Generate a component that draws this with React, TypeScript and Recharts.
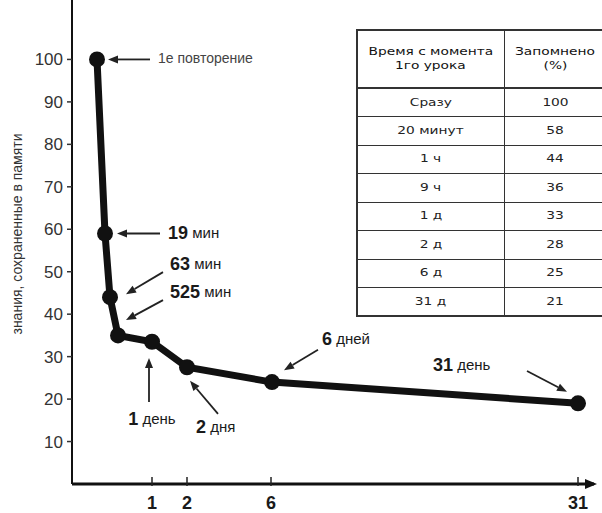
import React from 'react';
import { LineChart, Line, XAxis, YAxis, ReferenceLine, ReferenceDot } from 'recharts';

// points on the curve: position along the (schematic) time axis and % retained
const pointNames = ['старт', '19 мин', '63 мин', '525 мин', '1 день', '2 дня', '6 дней', '31 день'];
const axisPos = [25, 33, 38, 46, 80, 115, 200, 506];
const retained = [100, 59, 44, 35, 33.5, 27.5, 24, 19];

const xTickPos = [80, 115, 199, 506];
const xTickLabels = ['1', '2', '6', '31'];
const yTicks = [10, 20, 30, 40, 50, 60, 70, 80, 90, 100];

const tableHead = [
  ['Время с момента', '1го урока'],
  ['Запомнено', '(%)'],
];
const tableTimes = ['Сразу', '20 минут', '1 ч', '9 ч', '1 д', '2 д', '6 д', '31 д'];
const tablePercents = [100, 58, 44, 36, 33, 28, 25, 21];

const data = axisPos.map((pos, i) => ({ name: pointNames[i], pos, retained: retained[i] }));

// callouts: arrow from -> to (chart units), text offset from the arrow tail (px)
const notes = [
  { num: '', word: '1е повторение', from: [78, 100], to: [36, 100], dx: 8, dy: 0, anchor: 'start' },
  { num: '19', word: ' мин', from: [88, 59], to: [45, 59], dx: 8, dy: 0, anchor: 'start' },
  { num: '63', word: ' мин', from: [91, 49.9], to: [54, 44.7], dx: 7, dy: -7, anchor: 'start' },
  { num: '525', word: ' мин', from: [91, 43.3], to: [54, 38.6], dx: 7, dy: -7, anchor: 'start' },
  { num: '1', word: ' день', from: [77, 19.3], to: [77, 29.7], dx: 3, dy: 18, anchor: 'middle' },
  { num: '2', word: ' дня', from: [146, 16.5], to: [118, 24.3], dx: -22, dy: 14, anchor: 'start' },
  { num: '6', word: ' дней', from: [246, 31.6], to: [212, 26.8], dx: 4, dy: -10, anchor: 'start' },
  { num: '31', word: ' день', from: [455, 26.6], to: [495, 21.7], dx: -94, dy: -5, anchor: 'start' },
];

const font = 'Liberation Sans, Arial, sans-serif';

const arrowShape = (note: any) => (props: any) => {
  const { x1, y1, x2, y2 } = props;
  const a = Math.atan2(y2 - y1, x2 - x1);
  const c = Math.cos(a);
  const s = Math.sin(a);
  const bx = x2 - 10 * c;
  const by = y2 - 10 * s;
  const pts = `${x2},${y2} ${bx - 4 * s},${by + 4 * c} ${bx + 4 * s},${by - 4 * c}`;
  return (
    <g>
      <line x1={x1} y1={y1} x2={bx} y2={by} stroke="#222" strokeWidth={1.8} />
      <polygon points={pts} fill="#222" />
      <text
        x={x1 + note.dx}
        y={y1 + note.dy}
        textAnchor={note.anchor}
        dominantBaseline="middle"
        fill="#1a1a1a"
        fontFamily={font}
      >
        {note.num ? (
          <tspan fontWeight="bold" fontSize={18}>{note.num}</tspan>
        ) : null}
        <tspan fontSize={note.num ? 15 : 14} fill={note.num ? '#1a1a1a' : '#444'}>{note.word}</tspan>
      </text>
    </g>
  );
};

const XTick = (props: any) => {
  const { x, y, payload } = props;
  const i = xTickPos.indexOf(payload.value);
  return (
    <g>
      <line x1={x} y1={y - 9} x2={x} y2={y} stroke="#222" strokeWidth={1.5} />
      <text x={x} y={y + 18} textAnchor="middle" dominantBaseline="middle" fontWeight="bold" fontSize={18} fontFamily={font} fill="#1a1a1a">
        {i >= 0 ? xTickLabels[i] : ''}
      </text>
    </g>
  );
};

const YTitle = (props: any) => {
  const vb = props.viewBox || { x: 0, y: 0, height: 484 };
  const x = vb.x + 18;
  const y = vb.y + vb.height / 2 - 8;
  return (
    <text x={x} y={y} transform={`rotate(-90 ${x} ${y})`} textAnchor="middle" dominantBaseline="middle" fontSize={14} fontFamily={font} fill="#333">
      знания, сохраненные в памяти
    </text>
  );
};

const AxisArrow = (props: any) => {
  const { cx, cy } = props;
  return <polygon points={`${cx + 3},${cy} ${cx - 9},${cy - 5} ${cx - 9},${cy + 5}`} fill="#111" />;
};

const cell: React.CSSProperties = {
  border: '1.5px solid #333',
  textAlign: 'center',
  padding: 0,
  color: '#222',
  fontFamily: 'DejaVu Sans, sans-serif',
  fontSize: 11,
  lineHeight: '14px',
  whiteSpace: 'nowrap',
};

const Stretch = ({ children }: { children: React.ReactNode }) => (
  <span style={{ display: 'inline-block', transform: 'scaleX(1.25)' }}>{children}</span>
);

export default function App() {
  return (
    <div style={{ position: 'absolute', left: 0, top: 0, width: 602, height: 513, overflow: 'hidden', background: '#fff' }}>
      <LineChart width={602} height={513} data={data} margin={{ top: 0, right: 8, bottom: 0, left: 0 }}>
        <XAxis
          dataKey="pos"
          type="number"
          domain={[0, 522]}
          ticks={xTickPos}
          interval={0}
          tickSize={0}
          tickLine={false}
          tick={<XTick />}
          height={29}
          axisLine={{ stroke: '#111', strokeWidth: 3 }}
        />
        <YAxis
          type="number"
          domain={[0, 114]}
          ticks={yTicks}
          interval={0}
          width={72}
          tickSize={5}
          tickMargin={4}
          tickLine={{ stroke: '#333', strokeWidth: 1.5 }}
          axisLine={{ stroke: '#111', strokeWidth: 2 }}
          tick={{ fill: '#333', fontSize: 17, fontFamily: font }}
          label={<YTitle />}
        />
        <ReferenceDot x={522} y={0} r={0} shape={<AxisArrow />} ifOverflow="visible" />
        <Line
          dataKey="retained"
          type="linear"
          stroke="#111"
          strokeWidth={7}
          dot={{ r: 8, fill: '#111', stroke: '#111', strokeWidth: 0 }}
          isAnimationActive={false}
        />
        {notes.map((n, i) => (
          <ReferenceLine
            key={i}
            segment={[
              { x: n.from[0], y: n.from[1] },
              { x: n.to[0], y: n.to[1] },
            ]}
            ifOverflow="visible"
            shape={arrowShape(n)}
          />
        ))}
      </LineChart>
      <table
        style={{
          position: 'absolute',
          left: 356,
          top: 29,
          width: 250,
          borderCollapse: 'collapse',
          background: '#fff',
          border: '2px solid #333',
          tableLayout: 'fixed',
        }}
      >
        <colgroup>
          <col style={{ width: 147 }} />
          <col style={{ width: 103 }} />
        </colgroup>
        <tbody>
          <tr style={{ height: 58 }}>
            {tableHead.map((h) => (
              <td key={h[0]} style={{ ...cell, borderBottom: '2.5px solid #333', color: '#111' }}>
                <Stretch>{h[0]}</Stretch>
                <br />
                <Stretch>{h[1]}</Stretch>
              </td>
            ))}
          </tr>
          {tableTimes.map((t, i) => (
            <tr key={t} style={{ height: 28.5 }}>
              <td style={cell}>
                <Stretch>{t}</Stretch>
              </td>
              <td style={cell}>
                <Stretch>{tablePercents[i]}</Stretch>
              </td>
            </tr>
          ))}
        </tbody>
      </table>
    </div>
  );
}
